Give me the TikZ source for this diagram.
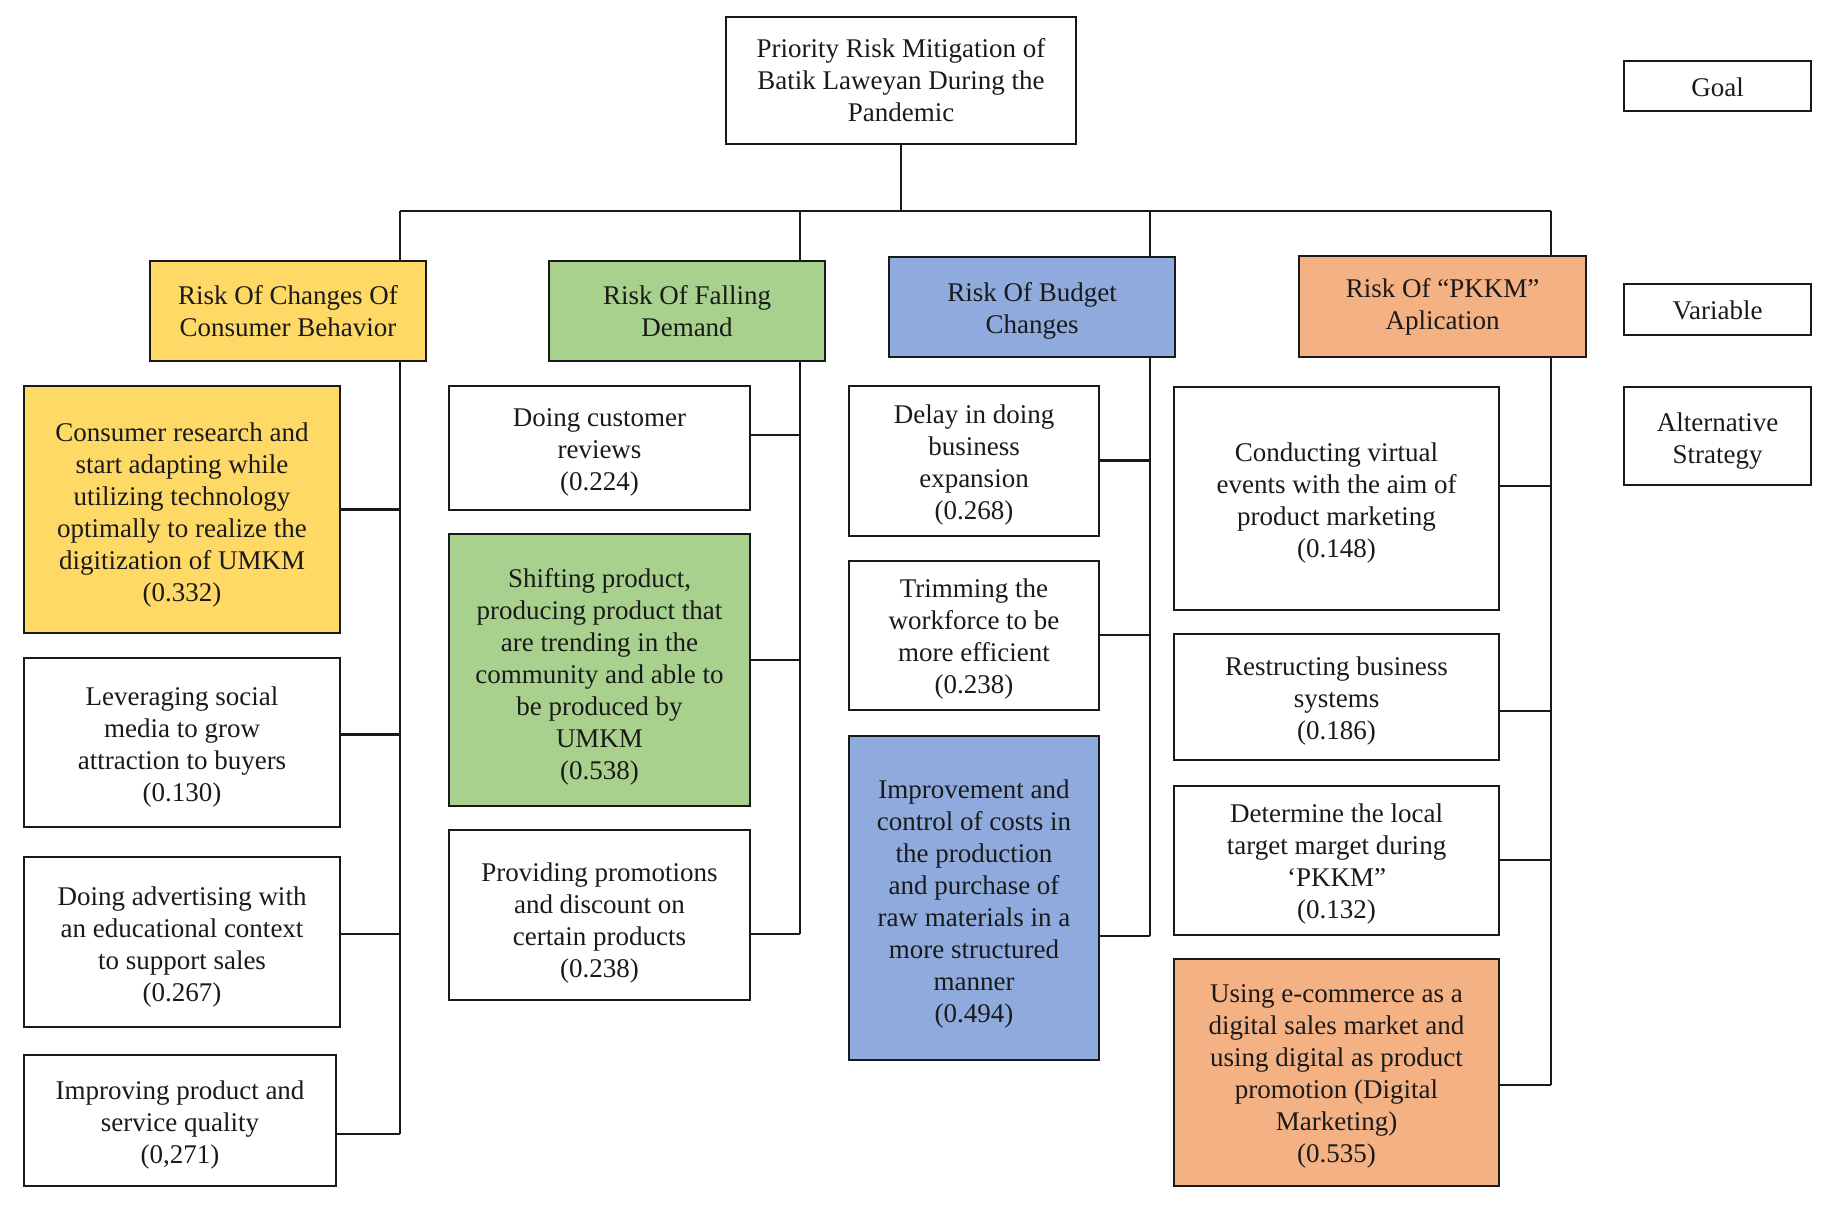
\documentclass[tikz,border=0pt]{standalone}
\usepackage{fontspec}
\setmainfont{Liberation Serif}
\definecolor{cyel}{HTML}{FFD966}
\definecolor{cgrn}{HTML}{A9D18E}
\definecolor{cblu}{HTML}{8FAADC}
\definecolor{corg}{HTML}{F4B183}
\definecolor{ink}{HTML}{1A1A1A}
\newcommand\dn[2][5pt]{\raisebox{-#1}[\height][\depth]{\begin{tabular}{@{}c@{}}#2\end{tabular}}}
\begin{document}
\begin{tikzpicture}[x=1pt,y=-1pt,
  box/.style={draw=ink, line width=2.4pt, align=center, inner sep=0pt, fill=white,
    font=\fontsize{27}{32}\selectfont, text=ink},
  wire/.style={draw=ink, line width=2.2pt}]
\useasboundingbox (0,0) rectangle (1828,1209);
\fill[white] (0,0) rectangle (1828,1209);

% goal
\node[box, minimum width=350pt, minimum height=127pt] (goal) at (901,80.5)
  {Priority Risk Mitigation of\\Batik Laweyan During the\\Pandemic};

% legend
\node[box, minimum width=187pt, minimum height=50pt] (lgoal) at (1717.5,86) {\dn[4pt]{Goal}};
\node[box, minimum width=187pt, minimum height=51pt] (lvar) at (1717.5,309.5) {\dn[4pt]{Variable}};
\node[box, minimum width=187pt, minimum height=98pt] (lalt) at (1717.5,436) {\dn{Alternative\\Strategy}};

% variables
\node[box, fill=cyel, minimum width=276pt, minimum height=100pt] (v1) at (288,311)
  {Risk Of Changes Of\\Consumer Behavior};
\node[box, fill=cgrn, minimum width=276pt, minimum height=100pt] (v2) at (687,311)
  {Risk Of Falling\\Demand};
\node[box, fill=cblu, minimum width=286pt, minimum height=100pt] (v3) at (1032,307)
  {\dn[4pt]{Risk Of Budget\\Changes}};
\node[box, fill=corg, minimum width=287pt, minimum height=101pt] (v4) at (1442.5,306.5)
  {\dn[1pt]{Risk Of “PKKM”\\Aplication}};

% column 1
\node[box, fill=cyel, minimum width=316pt, minimum height=247pt] (a1) at (182,509.5)
  {\dn[6pt]{Consumer research and\\start adapting while\\utilizing technology\\optimally to realize the\\digitization of UMKM\\(0.332)}};
\node[box, minimum width=316pt, minimum height=169pt] (a2) at (182,742.5)
  {\dn{Leveraging social\\media to grow\\attraction to buyers\\(0.130)}};
\node[box, minimum width=316pt, minimum height=170pt] (a3) at (182,942)
  {\dn{Doing advertising with\\an educational context\\to support sales\\(0.267)}};
\node[box, minimum width=312pt, minimum height=131pt] (a4) at (180,1120.5)
  {\dn{Improving product and\\service quality\\(0,271)}};

% column 2
\node[box, minimum width=301pt, minimum height=124pt] (b1) at (599.5,448)
  {\dn[4pt]{Doing customer\\reviews\\(0.224)}};
\node[box, fill=cgrn, minimum width=301pt, minimum height=272pt] (b2) at (599.5,670)
  {\dn[7pt]{Shifting product,\\producing product that\\are trending in the\\community and able to\\be produced by\\UMKM\\(0.538)}};
\node[box, minimum width=301pt, minimum height=170pt] (b3) at (599.5,915)
  {\dn[8pt]{Providing promotions\\and discount on\\certain products\\(0.238)}};

% column 3
\node[box, minimum width=250pt, minimum height=150pt] (c1) at (974,461)
  {\dn[4pt]{Delay in doing\\business\\expansion\\(0.268)}};
\node[box, minimum width=250pt, minimum height=149pt] (c2) at (974,635.5)
  {\dn[4pt]{Trimming the\\workforce to be\\more efficient\\(0.238)}};
\node[box, fill=cblu, minimum width=250pt, minimum height=324pt] (c3) at (974,898)
  {\dn[6pt]{Improvement and\\control of costs in\\the production\\and purchase of\\raw materials in a\\more structured\\manner\\(0.494)}};

% column 4
\node[box, minimum width=325pt, minimum height=223pt] (d1) at (1336.5,498.5)
  {\dn[5pt]{Conducting virtual\\events with the aim of\\product marketing\\(0.148)}};
\node[box, minimum width=325pt, minimum height=126pt] (d2) at (1336.5,697)
  {\dn[4pt]{Restructing business\\systems\\(0.186)}};
\node[box, minimum width=325pt, minimum height=149pt] (d3) at (1336.5,860.5)
  {\dn[4pt]{Determine the local\\target marget during\\‘PKKM”\\(0.132)}};
\node[box, fill=corg, minimum width=325pt, minimum height=227pt] (d4) at (1336.5,1072.5)
  {\dn[4pt]{Using e-commerce as a\\digital sales market and\\using digital as product\\promotion (Digital\\Marketing)\\(0.535)}};

% bus
\coordinate (bus1) at (400,211);
\coordinate (bus2) at (800,211);
\coordinate (bus3) at (1150,211);
\coordinate (bus4) at (1551,211);
\draw[wire] (goal.south) -- (goal.south |- bus1);
\draw[wire] (bus1) -- (bus4);
\draw[wire] (bus1) -- (bus1 |- v1.north);
\draw[wire] (bus2) -- (bus2 |- v2.north);
\draw[wire] (bus3) -- (bus3 |- v3.north);
\draw[wire] (bus4) -- (bus4 |- v4.north);

% column spines
\draw[wire] (v1.south -| bus1) -- (bus1 |- 0,1134);
\draw[wire] (v2.south -| bus2) -- (bus2 |- 0,934);
\draw[wire] (v3.south -| bus3) -- (bus3 |- 0,936);
\draw[wire] (v4.south -| bus4) -- (bus4 |- 0,1085);

% branches
\foreach \n/\y in {a1/509.5,a2/734.5,a3/934,a4/1134}
  \draw[wire] (\n.east |- 0,\y) -- (bus1 |- 0,\y);
\foreach \n/\y in {b1/435,b2/660,b3/934}
  \draw[wire] (\n.east |- 0,\y) -- (bus2 |- 0,\y);
\foreach \n/\y in {c1/460.5,c2/635,c3/936}
  \draw[wire] (\n.east |- 0,\y) -- (bus3 |- 0,\y);
\foreach \n/\y in {d1/486,d2/711,d3/860,d4/1085}
  \draw[wire] (\n.east |- 0,\y) -- (bus4 |- 0,\y);
\end{tikzpicture}
\end{document}
